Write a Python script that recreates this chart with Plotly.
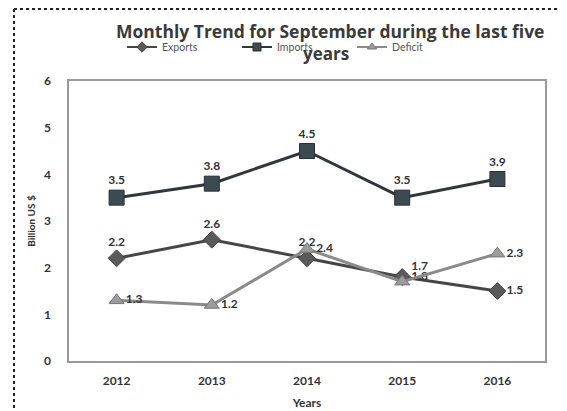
import plotly.graph_objects as go

years = ["2012", "2013", "2014", "2015", "2016"]
exports = [2.2, 2.6, 2.2, 1.8, 1.5]
imports = [3.5, 3.8, 4.5, 3.5, 3.9]
deficit = [1.3, 1.2, 2.4, 1.7, 2.3]

FONT = "Lato"
TFONT = "Open Sans"
W, H = 567, 411
D = 8  # page offset of the figure in the screenshot
PX0, PX1, PY0, PY1 = 69, 545, 81, 361
L, T = PX0 - D, PY0 - D
R, B = W - (PX1 - D), H - (PY1 - D)
pw, ph = PX1 - PX0, PY1 - PY0

def px(x):
    return (x - PX0) / pw

def py(y):
    return (PY1 - y) / ph

styles = {
    "Exports": dict(line="#464646", fill="#5a5a5a", edge="#444", symbol="diamond", size=13),
    "Imports": dict(line="#2d373d", fill="#3c4a52", edge="#2a2f33", symbol="square", size=15),
    "Deficit": dict(line="#8a8a8a", fill="#9c9c9c", edge="#777", symbol="triangle-up", size=13),
}
positions = {
    "Exports": ["top center", "top center", "top center", "middle right", "middle right"],
    "Imports": ["top center"] * 5,
    "Deficit": ["middle right", "middle right", "middle right", "top right", "middle right"],
}
series = {"Exports": exports, "Imports": imports, "Deficit": deficit}

fig = go.Figure()
for name, vals in series.items():
    s = styles[name]
    fig.add_trace(go.Scatter(
        x=years, y=vals, name=name, mode="lines+markers+text", showlegend=False,
        line=dict(color=s["line"], width=3),
        marker=dict(symbol=s["symbol"], size=s["size"], color=s["fill"], line=dict(color=s["edge"], width=1)),
        text=[f"{v:.1f}" for v in vals],
        textposition=positions[name],
        textfont=dict(family=FONT, size=12, color="#333", weight="bold"),
        cliponaxis=False,
    ))
for name in series:
    s = styles[name]
    fig.add_trace(go.Scatter(
        x=[None], y=[None], name=name, mode="lines+markers", showlegend=True,
        line=dict(color=s["line"], width=2),
        marker=dict(symbol=s["symbol"], size=8, color=s["fill"], line=dict(color=s["edge"], width=1)),
    ))

fig.update_layout(
    width=W, height=H,
    margin=dict(l=L, r=R, t=T, b=B, autoexpand=False),
    paper_bgcolor="white", plot_bgcolor="white",
    font=dict(family=FONT, color="#333"),
    showlegend=True,
    legend=dict(orientation="h", x=px(122), y=py(47), xanchor="left", yanchor="middle",
                font=dict(family=FONT, size=10.5, color="#555"),
                entrywidth=70, entrywidthmode="pixels",
                itemwidth=30, bgcolor="rgba(0,0,0,0)", tracegroupgap=0),
    xaxis=dict(
        type="category", range=[-0.5, 4.5], showgrid=False, automargin=False,
        showline=True, linecolor="#999", linewidth=1.5, mirror=True,
        ticks="", ticklabelstandoff=8,
        tickfont=dict(family=FONT, size=12, color="#333", weight="bold"),
        title=dict(text="<b>Years</b>", font=dict(family=FONT, size=12, color="#333"), standoff=11),
    ),
    yaxis=dict(
        range=[0, 6], dtick=1, showgrid=False, zeroline=False, automargin=False,
        showline=True, linecolor="#999", linewidth=1.5, mirror=True,
        ticks="", ticklabelstandoff=14,
        tickfont=dict(family=FONT, size=12, color="#333", weight="bold"),
        title=dict(text="<b>Billion US $</b>", font=dict(family=FONT, size=10, color="#333"), standoff=6),
    ),
    annotations=[
        dict(text="<b>Monthly Trend for September during the last five</b>", xref="paper", yref="paper",
             x=px(330), y=py(31), xanchor="center", yanchor="middle", showarrow=False,
             font=dict(family=TFONT, size=17.5, color="#3a3a3a")),
        dict(text="<b>years</b>", xref="paper", yref="paper",
             x=px(326), y=py(54), xanchor="center", yanchor="middle", showarrow=False,
             font=dict(family=TFONT, size=17, color="#3a3a3a")),
    ],
    shapes=[
        dict(type="line", xref="paper", yref="paper", x0=px(14), x1=px(14), y0=py(9), y1=py(420),
             line=dict(color="#222", width=2, dash="dot")),
        dict(type="line", xref="paper", yref="paper", x0=px(14), x1=px(580), y0=py(9), y1=py(9),
             line=dict(color="#222", width=2, dash="dot")),
    ],
)

fig.write_html("out.html")
